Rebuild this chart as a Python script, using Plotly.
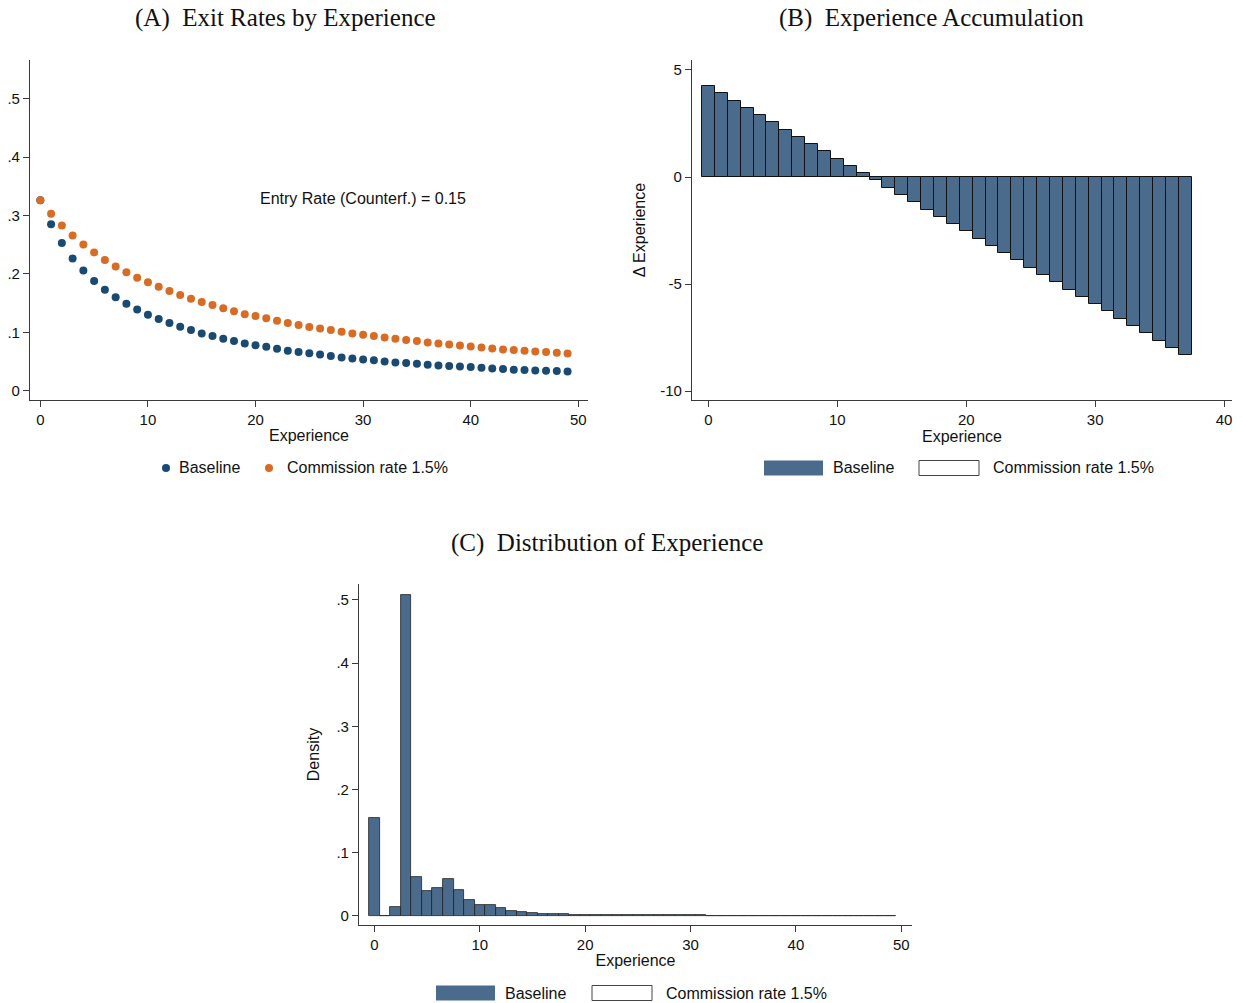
import plotly.graph_objects as go

W, H = 1243, 1003

# ---- Panel A: exit rates by experience ----
exp_a = list(range(50))
exit_baseline = [0.3265, 0.285, 0.253, 0.2266, 0.206, 0.188, 0.173, 0.160, 0.149, 0.139,
                 0.130, 0.1227, 0.116, 0.1096, 0.104, 0.098, 0.0936, 0.089, 0.085, 0.081,
                 0.078, 0.0753, 0.0719, 0.0685, 0.0662, 0.0640, 0.0622, 0.0594, 0.057, 0.0553,
                 0.0536, 0.052, 0.0502, 0.0485, 0.0474, 0.0462, 0.0445, 0.0434, 0.0422, 0.0417,
                 0.0405, 0.0394, 0.0382, 0.037, 0.036, 0.0354, 0.0348, 0.0342, 0.0337, 0.033]
exit_commission = [0.3265, 0.303, 0.283, 0.266, 0.2506, 0.237, 0.224, 0.213, 0.203, 0.1935,
                   0.186, 0.178, 0.171, 0.164, 0.1575, 0.152, 0.1467, 0.1415, 0.136, 0.131,
                   0.128, 0.124, 0.120, 0.116, 0.1125, 0.109, 0.1068, 0.1039, 0.101, 0.0982,
                   0.0959, 0.0936, 0.0913, 0.089, 0.0868, 0.085, 0.0828, 0.081, 0.0793, 0.0776,
                   0.0759, 0.0742, 0.0725, 0.0708, 0.0696, 0.0685, 0.0673, 0.0662, 0.065, 0.0639]
ticks_a_x = [0, 10, 20, 30, 40, 50]
ticks_a_y = [0, 0.1, 0.2, 0.3, 0.4, 0.5]
ticktext_a_y = ["0", ".1", ".2", ".3", ".4", ".5"]
entry_note = "Entry Rate (Counterf.) = 0.15"

# ---- Panel B: change in accumulated experience ----
exp_b = list(range(38))
delta_exp = [4.25, 3.91, 3.57, 3.22, 2.88, 2.56, 2.21, 1.87, 1.53, 1.20,
             0.86, 0.51, 0.17, -0.155, -0.50, -0.855, -1.18, -1.53, -1.88, -2.21,
             -2.54, -2.90, -3.22, -3.57, -3.89, -4.24, -4.60, -4.92, -5.27, -5.59,
             -5.95, -6.28, -6.62, -6.96, -7.30, -7.65, -7.98, -8.32]
ticks_b_x = [0, 10, 20, 30, 40]
ticks_b_y = [-10, -5, 0, 5]
ticktext_b_y = ["-10", "-5", "0", "5"]

# ---- Panel C: distribution of experience ----
exp_c = list(range(50))
density = [0.154, 0.0, 0.0137, 0.508, 0.0606, 0.0385, 0.0443, 0.058, 0.0406, 0.0243,
           0.0169, 0.0172, 0.013, 0.0068, 0.0053, 0.0036, 0.0030, 0.0026, 0.0020, 0.0015,
           0.0012, 0.0010, 0.0009, 0.0008, 0.0007, 0.0006, 0.0006, 0.0005, 0.0005, 0.0004,
           0.0004, 0.0004, 0.0003, 0.0003, 0.0003, 0.0003, 0.0002, 0.0002, 0.0002, 0.0002,
           0.0002, 0.0002, 0.0001, 0.0001, 0.0001, 0.0001, 0.0001, 0.0001, 0.0001, 0.0001]
ticks_c_x = [0, 10, 20, 30, 40, 50]
ticks_c_y = [0, 0.1, 0.2, 0.3, 0.4, 0.5]
ticktext_c_y = ["0", ".1", ".2", ".3", ".4", ".5"]

series_names = ["Baseline", "Commission rate 1.5%"]

NAVY = "#1a4a72"
ORANGE = "#d86c25"
BARBLUE = "#4a6b8b"
AXIS = "#3a3a3a"
SANS = "Liberation Sans, Arial, sans-serif"
SERIF = "Liberation Serif, Times New Roman, serif"
FS = 16


def px(x):
    return x / W


def py(y):
    return 1 - y / H


fig = go.Figure()

fig.add_trace(go.Scatter(x=exp_a, y=exit_baseline, mode="markers", name=series_names[0],
                         marker=dict(color=NAVY, size=8), xaxis="x", yaxis="y",
                         showlegend=False))
fig.add_trace(go.Scatter(x=exp_a, y=exit_commission, mode="markers", name=series_names[1],
                         marker=dict(color=ORANGE, size=8), xaxis="x", yaxis="y",
                         showlegend=False))

fig.add_trace(go.Bar(x=exp_b, y=delta_exp, width=1, name=series_names[0],
                     marker=dict(color=BARBLUE, line=dict(color="#111111", width=1)),
                     xaxis="x2", yaxis="y2", showlegend=False))

fig.add_trace(go.Bar(x=exp_c, y=density, width=1, name=series_names[0],
                     marker=dict(color=BARBLUE, line=dict(color="#222222", width=0.8)),
                     xaxis="x3", yaxis="y3", showlegend=False))

axis_common = dict(showline=True, linecolor=AXIS, linewidth=1.2, ticks="outside",
                   ticklen=6, tickcolor=AXIS, tickwidth=1.2, showgrid=False,
                   zeroline=False, tickfont=dict(family=SANS, size=FS - 1, color="#111"),
                   title_font=dict(family=SANS, size=FS, color="#111"), fixedrange=True)

fig.update_layout(
    width=W, height=H, margin=dict(l=0, r=0, t=0, b=0),
    paper_bgcolor="white", plot_bgcolor="white", showlegend=False, bargap=0,
    xaxis=dict(axis_common, domain=[px(30), px(588)], range=[-0.96, 50.9],
               tickvals=ticks_a_x, anchor="y",
               title=dict(text="Experience", standoff=2)),
    yaxis=dict(axis_common, domain=[py(400), py(60)], range=[-0.0159, 0.5666],
               tickvals=ticks_a_y, ticktext=ticktext_a_y, anchor="x"),
    xaxis2=dict(axis_common, domain=[px(692), px(1232)], range=[-1.28, 40.62],
                tickvals=ticks_b_x, anchor="y2",
                title=dict(text="Experience", standoff=2)),
    yaxis2=dict(axis_common, domain=[py(400), py(60)], range=[-10.42, 5.467],
                tickvals=ticks_b_y, ticktext=ticktext_b_y, anchor="x2",
                title=dict(text="\u0394 Experience", standoff=10)),
    xaxis3=dict(axis_common, domain=[px(359), px(912)], range=[-1.47, 51.02],
                tickvals=ticks_c_x, anchor="y3",
                title=dict(text="Experience", standoff=2)),
    yaxis3=dict(axis_common, domain=[py(925), py(584)], range=[-0.0147, 0.5253],
                tickvals=ticks_c_y, ticktext=ticktext_c_y, anchor="x3",
                title=dict(text="Density", standoff=12)),
)

annotations = []
shapes = []

# panel titles
for text, cx, cy in [("(A)\u00a0\u00a0Exit Rates by Experience", 285, 18),
                     ("(B)\u00a0\u00a0Experience Accumulation", 931, 18),
                     ("(C)\u00a0\u00a0Distribution of Experience", 607, 543)]:
    annotations.append(dict(text=text, x=px(cx), y=py(cy), xref="paper", yref="paper",
                            showarrow=False, xanchor="center", yanchor="middle",
                            font=dict(family=SERIF, size=25, color="#111")))

# note in panel A
annotations.append(dict(text=entry_note, x=30, y=0.329, xref="x", yref="y",
                        xanchor="center", yanchor="middle", showarrow=False,
                        font=dict(family=SANS, size=FS, color="#111")))


def legend_text(text, x, y):
    annotations.append(dict(text=text, x=px(x), y=py(y), xref="paper", yref="paper",
                            xanchor="left", yanchor="middle", showarrow=False,
                            font=dict(family=SANS, size=FS, color="#111")))


# legend A: dot markers
for cx, color in [(166, NAVY), (269, ORANGE)]:
    shapes.append(dict(type="circle", xref="paper", yref="paper",
                       x0=px(cx - 4), x1=px(cx + 4), y0=py(472), y1=py(464),
                       fillcolor=color, line=dict(width=0)))
legend_text(series_names[0], 177, 468)
legend_text(series_names[1], 285, 468)


# legends B and C: filled / empty boxes
def box_legend(x_fill, x_empty, x_t1, x_t2, yc):
    shapes.append(dict(type="rect", xref="paper", yref="paper",
                       x0=px(x_fill), x1=px(x_fill + 59), y0=py(yc + 7.5), y1=py(yc - 7.5),
                       fillcolor=BARBLUE, line=dict(width=0)))
    shapes.append(dict(type="rect", xref="paper", yref="paper",
                       x0=px(x_empty), x1=px(x_empty + 60), y0=py(yc + 7.5), y1=py(yc - 7.5),
                       fillcolor="white", line=dict(color="#444", width=1)))
    legend_text(series_names[0], x_t1, yc)
    legend_text(series_names[1], x_t2, yc)


box_legend(764, 919, 831, 991, 468)
box_legend(436, 592, 503, 664, 993)

fig.update_layout(annotations=annotations, shapes=shapes)

fig.write_html("out.html")
